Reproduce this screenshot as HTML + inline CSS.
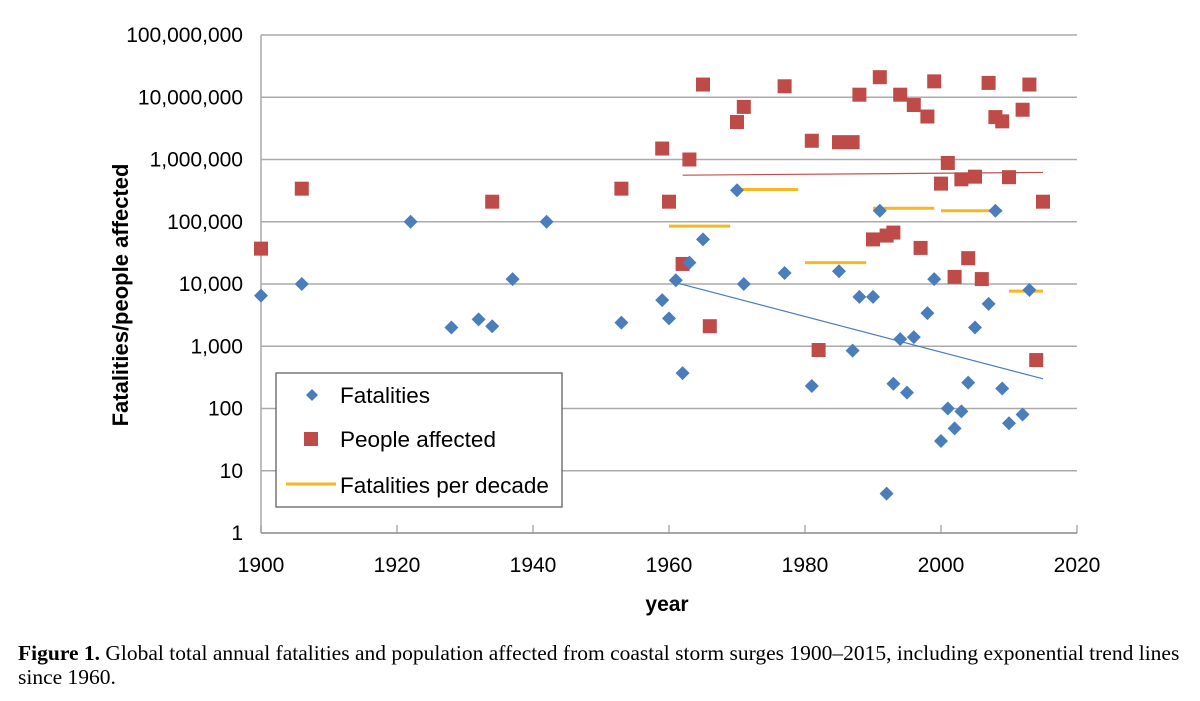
<!DOCTYPE html>
<html><head><meta charset="utf-8"><style>
body{margin:0;background:#fff;}
svg{display:block;font-family:"Liberation Sans",Arial,sans-serif;}
.cap{font-family:"Liberation Serif",serif;font-size:21.5px;}
</style></head><body>
<svg id="chart" width="1200" height="701">
<g id="grid"></g>
<g id="yticks"></g>
<g id="xticks"></g>
<g id="marks"></g>
<text x="128" y="295" transform="rotate(-90 128 295)" text-anchor="middle" font-weight="bold" font-size="22">Fatalities/people affected</text>
<text x="667" y="611" text-anchor="middle" font-weight="bold" font-size="21">year</text>
<g>
<rect x="276" y="373" width="286" height="134" fill="#fff" stroke="#555" stroke-width="1.2"/>
<path d="M312 389 L318 395 L312 401 L306 395 Z" fill="#4a7ebb"/>
<text x="340" y="403" font-size="22.5">Fatalities</text>
<rect x="304" y="432" width="14" height="14" fill="#be4b48"/>
<text x="340" y="447" font-size="22.5">People affected</text>
<line x1="286" y1="484" x2="336" y2="484" stroke="#f5b722" stroke-width="3"/>
<text x="340" y="493" font-size="22.5">Fatalities per decade</text>
</g>
<text class="cap" x="18" y="660"><tspan font-weight="bold">Figure 1.</tspan> Global total annual fatalities and population affected from coastal storm surges 1900–2015, including exponential trend lines</text>
<text class="cap" x="18" y="684">since 1960.</text>
</svg>
<script>
const fatYears=[1900,1906,1922,1928,1932,1934,1937,1942,1953,1959,1960,1961,1962,1963,1965,1970,1971,1977,1981,1985,1987,1988,1990,1991,1992,1993,1994,1995,1996,1998,1999,2000,2001,2002,2003,2004,2005,2007,2008,2009,2010,2012,2013];
const fatVals=[6500,10000,100000,2000,2700,2100,12000,100000,2400,5500,2800,11500,370,22000,52000,320000,10000,15000,230,16000,850,6200,6200,150000,4.3,250,1300,180,1400,3400,12000,30,100,48,90,260,2000,4800,150000,210,58,80,8000];
const pplYears=[1900,1906,1934,1953,1959,1960,1962,1963,1965,1966,1970,1971,1977,1981,1982,1985,1987,1988,1990,1991,1992,1993,1994,1996,1997,1998,1999,2000,2001,2002,2003,2004,2005,2006,2007,2008,2009,2010,2012,2013,2014,2015];
const pplVals=[37000,340000,210000,340000,1500000,210000,21000,1000000,16000000,2100,4000000,7000000,15000000,2000000,870,1900000,1900000,11000000,52000,21000000,60000,67000,11000000,7500000,38000,4900000,18000000,410000,880000,13000,480000,26000,530000,12000,17000000,4800000,4100000,520000,6300000,16000000,600,210000];
const decadeStarts=[1960,1970,1980,1990,2000,2010];
const decadeEnds=[1969,1979,1989,1999,2009,2015];
const decadeVals=[85000,330000,22000,165000,150000,7700];
const fatTrendYears=[1961,2015];
const fatTrendVals=[10500,300];
const pplTrendYears=[1962,2015];
const pplTrendVals=[560000,620000];
const yTickVals=[1,10,100,1000,10000,100000,1000000,10000000,100000000];
const yTickLabels=["1","10","100","1,000","10,000","100,000","1,000,000","10,000,000","100,000,000"];
const xTickVals=[1900,1920,1940,1960,1980,2000,2020];

const X0=261,X1=1077,Y0=533,Y1=35;
const xs=y=>X0+(y-1900)/(2020-1900)*(X1-X0);
const ys=v=>Y0-Math.log10(v)/8*(Y0-Y1);
const NS="http://www.w3.org/2000/svg";
function mk(tag,attrs,parent){const e=document.createElementNS(NS,tag);for(const k in attrs)e.setAttribute(k,attrs[k]);document.getElementById(parent).appendChild(e);return e;}

yTickVals.forEach((v,i)=>{
  const g=mk('line',{x1:X0,x2:X1,y1:ys(v),y2:ys(v),stroke:i===0?'#888':'#aaa','stroke-width':1.5},'grid');
  
  
  const t=mk('text',{x:243,y:ys(v)+7,'text-anchor':'end','font-size':21},'yticks');
  t.textContent=yTickLabels[i];
  
  
});
const ax=mk('line',{x1:X0,x2:X0,y1:Y1,y2:Y0,stroke:'#aaa','stroke-width':1.5},'grid');


xTickVals.forEach(v=>{
  const tk=mk('line',{x1:xs(v),x2:xs(v),y1:Y0,y2:Y0-8,stroke:'#999','stroke-width':1.2},'xticks');
  
  
  const t=mk('text',{x:xs(v),y:572,'text-anchor':'middle','font-size':21},'xticks');
  t.textContent=v;
  
  
});
const pt=mk('line',{x1:xs(pplTrendYears[0]),y1:ys(pplTrendVals[0]),x2:xs(pplTrendYears[1]),y2:ys(pplTrendVals[1]),stroke:'#c0504d','stroke-width':1.2},'marks');


const ft=mk('line',{x1:xs(fatTrendYears[0]),y1:ys(fatTrendVals[0]),x2:xs(fatTrendYears[1]),y2:ys(fatTrendVals[1]),stroke:'#4a7ebb','stroke-width':1.2},'marks');


decadeStarts.forEach((s,i)=>{
  const l=mk('line',{x1:xs(s),x2:xs(decadeEnds[i]),y1:ys(decadeVals[i]),y2:ys(decadeVals[i]),stroke:'#f5b722','stroke-width':3},'marks');
  
  
});
pplYears.forEach((y,i)=>{
  const x=xs(y),yy=ys(pplVals[i]);
  const r=mk('rect',{x:x-7,y:yy-7,width:14,height:14,fill:'#be4b48'},'marks');
  
  
});
fatYears.forEach((y,i)=>{
  const x=xs(y),yy=ys(fatVals[i]);
  const p=mk('path',{d:`M${x} ${yy-7}L${x+7} ${yy}L${x} ${yy+7}L${x-7} ${yy}Z`,fill:'#4a7ebb'},'marks');
  
  
});
</script>
</body></html>
